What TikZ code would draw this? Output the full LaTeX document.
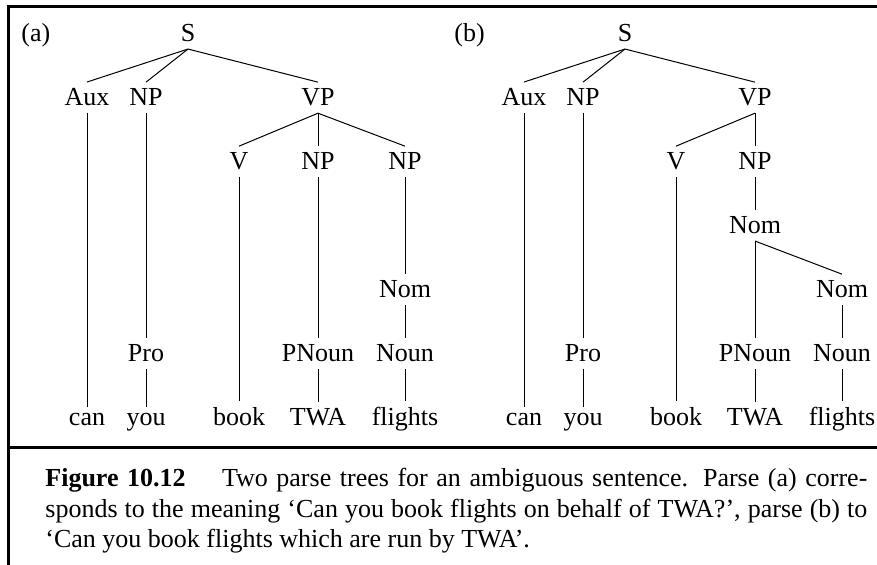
\documentclass[tikz,border=0pt]{standalone}
\usepackage{fontspec}
\setmainfont{Liberation Serif}
\usepackage{tikz}

\begin{document}
\begin{tikzpicture}[
    x=0.5pt, y=-0.5pt,
    font=\fontsize{13pt}{15.25pt}\selectfont,
    cat/.style={
        anchor=base,
        inner xsep=1pt,
        inner ysep=3.2pt
    },
    edge/.style={
        line width=0.5pt
    },
    frame/.style={
        line width=1.5pt,
        line join=miter
    },
    caption/.style={
        anchor=base west,
        inner sep=0pt,
        text width=411pt,
        align=justify
    }
]
\useasboundingbox (0,0) rectangle (877,565);

% Frame and rule above the caption
\draw[frame] (8,565) -- (8,6.5) -- (877,6.5);
\draw[frame] (8,447.5) -- (877,447.5);

% Tree (a)
\node[anchor=base west, inner sep=0pt] (alabel) at (21,42) {(a)};
\node[cat] (aS)   at (188,42)  {S};
\node[cat] (aAux) at (87,106)  {Aux};
\node[cat] (aNP)  at (146,106) {NP};
\node[cat] (aVP)  at (318,106) {VP};
\node[cat] (aV)   at (239,170) {V};
\node[cat] (aNPb) at (318,170) {NP};
\node[cat] (aNPc) at (405,170) {NP};
\node[cat] (aNom) at (405,298) {Nom};
\node[cat] (aPro) at (146,362) {Pro};
\node[cat] (aPN)  at (318,362) {PNoun};
\node[cat] (aNoun) at (405,362) {Noun};
\node[cat] (aCan)  at (87,426)  {can};
\node[cat] (aYou)  at (146,426) {you};
\node[cat] (aBook) at (239,426) {book};
\node[cat] (aTWA)  at (318,426) {TWA};
\node[cat] (aFlights) at (405,426) {flights};

\draw[edge] (aS.south) -- (aAux.north);
\draw[edge] (aS.south) -- (aNP.north);
\draw[edge] (aS.south) -- (aVP.north);
\draw[edge] (aAux.south) -- (aCan.north);
\draw[edge] (aNP.south) -- (aPro.north);
\draw[edge] (aPro.south) -- (aYou.north);
\draw[edge] (aVP.south) -- (aV.north);
\draw[edge] (aVP.south) -- (aNPb.north);
\draw[edge] (aVP.south) -- (aNPc.north);
\draw[edge] (aV.south) -- (aBook.north);
\draw[edge] (aNPb.south) -- (aPN.north);
\draw[edge] (aPN.south) -- (aTWA.north);
\draw[edge] (aNPc.south) -- (aNom.north);
\draw[edge] (aNom.south) -- (aNoun.north);
\draw[edge] (aNoun.south) -- (aFlights.north);

% Tree (b)
\node[anchor=base west, inner sep=0pt] (blabel) at (454,42) {(b)};
\node[cat] (bS)   at (625,42)  {S};
\node[cat] (bAux) at (524,106) {Aux};
\node[cat] (bNP)  at (583,106) {NP};
\node[cat] (bVP)  at (755,106) {VP};
\node[cat] (bV)   at (676,170) {V};
\node[cat] (bNPb) at (755,170) {NP};
\node[cat] (bNom) at (755,234) {Nom};
\node[cat] (bNomb) at (842,298) {Nom};
\node[cat] (bPro) at (583,362) {Pro};
\node[cat] (bPN)  at (755,362) {PNoun};
\node[cat] (bNoun) at (842,362) {Noun};
\node[cat] (bCan)  at (524,426) {can};
\node[cat] (bYou)  at (583,426) {you};
\node[cat] (bBook) at (676,426) {book};
\node[cat] (bTWA)  at (755,426) {TWA};
\node[cat] (bFlights) at (842,426) {flights};

\draw[edge] (bS.south) -- (bAux.north);
\draw[edge] (bS.south) -- (bNP.north);
\draw[edge] (bS.south) -- (bVP.north);
\draw[edge] (bAux.south) -- (bCan.north);
\draw[edge] (bNP.south) -- (bPro.north);
\draw[edge] (bPro.south) -- (bYou.north);
\draw[edge] (bVP.south) -- (bV.north);
\draw[edge] (bVP.south) -- (bNPb.north);
\draw[edge] (bV.south) -- (bBook.north);
\draw[edge] (bNPb.south) -- (bNom.north);
\draw[edge] (bNom.south) -- (bPN.north);
\draw[edge] (bNom.south) -- (bNomb.north);
\draw[edge] (bPN.south) -- (bTWA.north);
\draw[edge] (bNomb.south) -- (bNoun.north);
\draw[edge] (bNoun.south) -- (bFlights.north);

% Caption
\node[caption] (cap) at (45,487) {\textbf{Figure 10.12}\hspace{1.4em}Two parse trees for an ambiguous sentence. Parse (a) corre-\linebreak sponds to the meaning `Can you book flights on behalf of TWA?', parse (b) to\linebreak `Can you book flights which are run by TWA'.};

\end{tikzpicture}
\end{document}
